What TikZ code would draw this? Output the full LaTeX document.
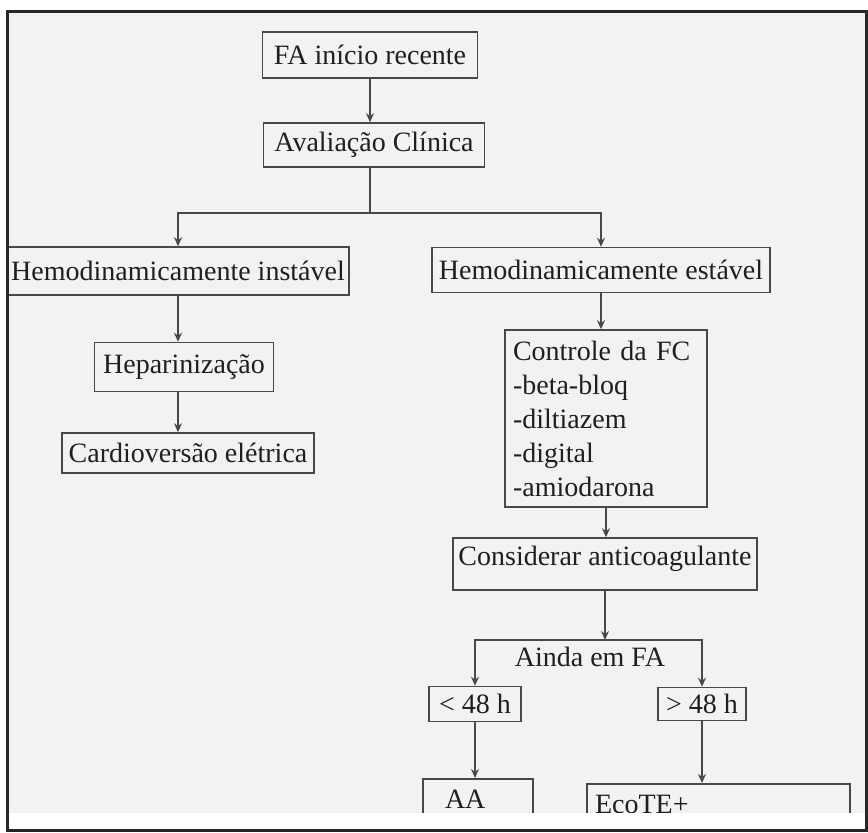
\documentclass[tikz,border=0pt]{standalone}
\usepackage{fontspec}
\setmainfont{Liberation Serif}
\usepackage{tikz}
\usetikzlibrary{arrows.meta, positioning}
\definecolor{scangray}{RGB}{242,242,242}
\definecolor{inkgray}{RGB}{72,72,72}
\tikzset{
    box/.style={rectangle, draw=inkgray, line width=1.6pt, text=black!88, font=\fontsize{28}{34}\selectfont, inner sep=4pt},
    plain/.style={text=black!88, font=\fontsize{28}{34}\selectfont, inner sep=0pt},
    arrow/.style={-{Stealth[length=9pt, width=8pt]}, line width=1.4pt, draw=inkgray}
}

\begin{document}
\begin{tikzpicture}[x=1pt, y=-1pt]
            \useasboundingbox (0,0) rectangle (868,833);
            \fill[scangray] (7,11) rectangle (866,813);

            \node (fa) [box, minimum width=215pt, minimum height=46pt] at (370,55) {FA início recente};
            \node (aval) [box, minimum width=221pt, minimum height=44pt] at (374,145) {Avaliação Clínica};
            \node (instavel) [box, minimum width=341pt, minimum height=48pt] at (178,271) {Hemodinamicamente instável};
            \node (heparina) [box, minimum width=179pt, minimum height=49pt] at (184,367) {Heparinização};
            \node (cardio) [box, minimum width=252pt, minimum height=40pt] at (188,453) {Cardioversão elétrica};
            \node (estavel) [box, minimum width=338pt, minimum height=45pt] at (601,270) {Hemodinamicamente estável};
            \node (controle) [box, minimum height=177pt, text width=186pt, inner xsep=8pt, align=left] at (606,418.5) {Controle da FC\\-beta-bloq\\-diltiazem\\-digital\\-amiodarona};
            \node (consid) [box, minimum width=304pt, text height=23pt, text depth=21pt] at (605,564) {Considerar anticoagulante};
            \coordinate (split) at (605,640);
            \node (ainda) [plain] at (590,657) {Ainda em FA};
            \node (menor) [box, minimum width=92pt, minimum height=35pt] at (475,704) {< 48 h};
            \node (maior) [box, minimum width=88pt, minimum height=33pt] at (702,704) {> 48 h};
            \node (aa) [box, text width=66pt, inner xsep=22pt, text height=26pt, text depth=34pt, align=left, anchor=north] at (478,778) {AA};
            \node (ecote) [box, text width=247pt, inner xsep=8pt, text height=26pt, text depth=34pt, align=left, anchor=north] at (718.5,783) {EcoTE+};

            \draw[arrow] (fa.south) -- (fa.south |- aval.north);
            \draw[arrow] (fa.south |- aval.south) -- ++(0,45) -| (instavel.north);
            \draw[arrow] (fa.south |- aval.south) -- ++(0,45) -| (estavel.north);
            \draw[arrow] (instavel.south) -- (instavel.south |- heparina.north);
            \draw[arrow] (instavel.south |- heparina.south) -- (instavel.south |- cardio.north);
            \draw[arrow] (estavel.south) -- (estavel.south |- controle.north);
            \draw[arrow] (controle.south) -- (controle.south |- consid.north);
            \draw[arrow] (consid.south) -- (split);
            \draw[arrow] (split) -| (menor.north);
            \draw[arrow] (split) -| (maior.north);
            \draw[arrow] (menor.south) -- (menor.south |- aa.north);
            \draw[arrow] (maior.south) -- (maior.south |- ecote.north);

            % cut-off edge of the scan
            \fill[white] (0,813) rectangle (868,833);
            \draw[line width=3pt, black!85] (7,11) rectangle (866,830);
        \end{tikzpicture}
\end{document}
